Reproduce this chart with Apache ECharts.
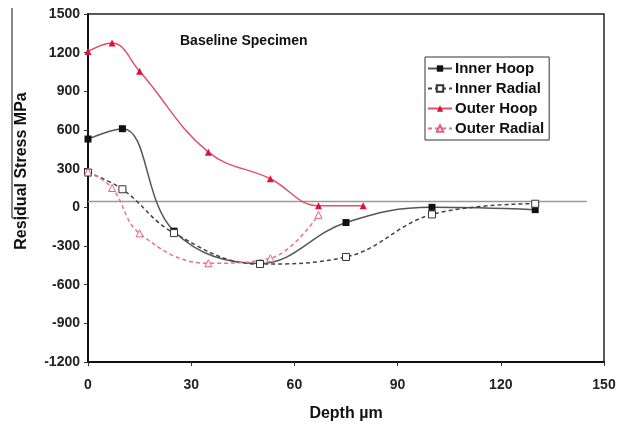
<!DOCTYPE html>
<html>
<head>
<meta charset="utf-8">
<script src="https://cdn.jsdelivr.net/npm/echarts@6/dist/echarts.min.js"></script>
<style>
  html, body { margin: 0; padding: 0; background: #fff; }
  #chart { width: 619px; height: 428px; }
</style>
</head>
<body>
<div id="chart"></div>
<script>
// depth (µm) / residual stress (MPa) pairs
const innerHoopDepth = [0, 10, 25, 50, 75, 100, 130]
const innerHoop = [530, 610, -185, -435, -118, 0, -18]

const innerRadialDepth = [0, 10, 25, 50, 75, 100, 130]
const innerRadial = [270, 140, -200, -440, -385, -55, 28]

const outerHoopDepth = [0, 7, 15, 35, 53, 67, 80]
const outerHoop = [1210, 1275, 1055, 428, 222, 12, 12]

const outerRadialDepth = [0, 7, 15, 35, 53, 67]
const outerRadial = [275, 150, -202, -434, -395, -58]

const refLineDepth = [0, 145]
const refLine = [45, 45]

const seriesNames = ['Inner Hoop', 'Inner Radial', 'Outer Hoop', 'Outer Radial']

const pairs = (xs, ys) => xs.map((x, i) => [x, ys[i]])

const font = 'Liberation Sans, Arial, sans-serif'

const chart = echarts.init(document.getElementById('chart'))

chart.setOption({
  animation: false,
  grid: {
    left: 88, right: 15, top: 14, bottom: 66,
    show: true, borderColor: '#222', borderWidth: 1.5
  },
  legend: {
    data: seriesNames,
    orient: 'vertical',
    left: 425, top: 57,
    itemWidth: 24, itemHeight: 8, itemGap: 5,
    padding: [4, 5, 4, 2],
    borderColor: '#333', borderWidth: 1,
    backgroundColor: '#fff',
    textStyle: { fontFamily: font, fontWeight: 'bold', fontSize: 15, color: '#111', padding: [0, 0, 0, -2] }
  },
  xAxis: {
    type: 'value', min: 0, max: 150, interval: 30,
    name: 'Depth µm', nameLocation: 'middle', nameGap: 44,
    nameTextStyle: { fontFamily: font, fontWeight: 'bold', fontSize: 16, color: '#111' },
    axisLine: { onZero: false, lineStyle: { color: '#111', width: 2 } },
    axisTick: { show: true, length: 4, lineStyle: { color: '#333' } },
    axisLabel: { fontFamily: font, fontWeight: 'bold', fontSize: 14, color: '#222', margin: 16 },
    splitLine: { show: false }
  },
  yAxis: {
    type: 'value', min: -1200, max: 1500, interval: 300,
    axisLine: { show: true, onZero: false, lineStyle: { color: '#111', width: 2 } },
    axisTick: { show: true, length: 4, lineStyle: { color: '#333' } },
    axisLabel: {
      fontFamily: font, fontWeight: 'bold', fontSize: 14, color: '#222', margin: 8,
      formatter: v => String(v)
    },
    splitLine: { show: false }
  },
  graphic: [
    {
      type: 'text', left: 180, top: 34,
      style: { text: 'Baseline Specimen', fontFamily: font, fontWeight: 'bold', fontSize: 14, fill: '#111' }
    },
    {
      type: 'text', x: 22, y: 171, rotation: Math.PI / 2,
      style: {
        text: 'Residual Stress MPa', fontFamily: font, fontWeight: 'bold', fontSize: 16,
        fill: '#111', align: 'center', verticalAlign: 'middle'
      }
    },
    // stray scan marks at the left edge
    { type: 'line', shape: { x1: 12, y1: 8, x2: 12, y2: 218 }, style: { stroke: '#111', lineWidth: 1 } },
    { type: 'line', shape: { x1: 12, y1: 218, x2: 29, y2: 218 }, style: { stroke: '#111', lineWidth: 1 } }
  ],
  series: [
    {
      name: 'ref', type: 'line', data: pairs(refLineDepth, refLine),
      symbol: 'none', silent: true, z: 1,
      lineStyle: { color: '#999', width: 1.5 }
    },
    {
      name: 'Inner Hoop', type: 'line', data: pairs(innerHoopDepth, innerHoop),
      smooth: 0.4, symbol: 'rect', symbolSize: 7,
      itemStyle: { color: '#111' },
      lineStyle: { color: '#555', width: 1.5 }
    },
    {
      name: 'Inner Radial', type: 'line', data: pairs(innerRadialDepth, innerRadial),
      smooth: 0.4, symbol: 'rect', symbolSize: 7,
      itemStyle: { color: '#fff', borderColor: '#333', borderWidth: 1 },
      lineStyle: { color: '#444', width: 1.5, type: [4, 3] }
    },
    {
      name: 'Outer Hoop', type: 'line', data: pairs(outerHoopDepth, outerHoop),
      smooth: 0.4, symbol: 'triangle', symbolSize: 7,
      itemStyle: { color: '#e0103c' },
      lineStyle: { color: '#e2506a', width: 1.5 }
    },
    {
      name: 'Outer Radial', type: 'line', data: pairs(outerRadialDepth, outerRadial),
      smooth: 0.4, symbol: 'triangle', symbolSize: 7,
      itemStyle: { color: '#fff', borderColor: '#e8607e', borderWidth: 1 },
      lineStyle: { color: '#e87090', width: 1.5, type: [4, 3] }
    }
  ]
})
</script>
</body>
</html>
